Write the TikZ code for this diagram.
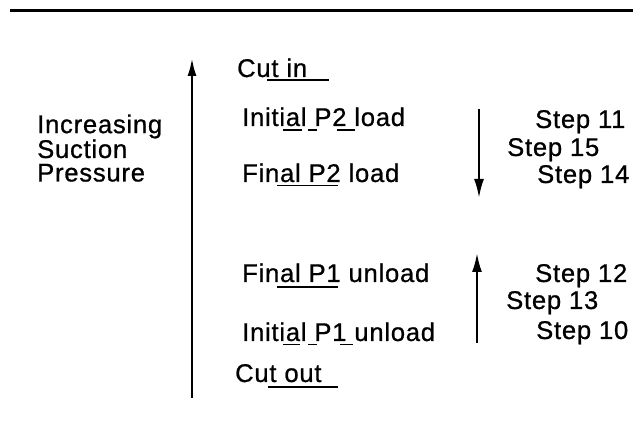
\documentclass[tikz,border=0pt]{standalone}
\usepackage{fontspec}
\setmainfont{Liberation Sans}[LetterSpace=3,FakeBold=0.8]
\usetikzlibrary{arrows.meta}
\tikzset{
  lbl/.style={anchor=base west, inner sep=0pt, font=\fontsize{25.6pt}{30pt}\selectfont},
  uline/.style={line width=1.8pt},
  bigarrow/.style={line width=2.5pt, -{Latex[length=18pt,width=9pt]}},
  smallarrow/.style={line width=2.3pt, -{Latex[length=19pt,width=10pt]}}
}
\begin{document}
\begin{tikzpicture}[x=1pt,y=-1pt]
\useasboundingbox (0,0) rectangle (633,430);
% top rule
\draw[line width=3.5pt] (10,10.5) -- (633,10.5);
% left label
\node[lbl, align=left, font=\fontsize{25.6pt}{23.5pt}\selectfont] (inc) at (37,181.5) {Increasing\\Suction\\Pressure};
% big arrow
\coordinate (bigbot) at (192,398);
\coordinate (bigtop) at (192,58);
\draw[bigarrow] (bigbot) -- (bigtop);
% middle labels
\node[lbl] (cutin) at (237,77) {Cut in};
\node[lbl] (ip2) at (242,126) {Initial P2 load};
\node[lbl] (fp2) at (242,182) {Final P2 load};
\node[lbl] (fp1) at (242,282) {Final P1 unload};
\node[lbl] (ip1) at (242,341) {Initial P1 unload};
\node[lbl] (cutout) at (235,382) {Cut out};
% underlines
\draw[uline] (267,80) -- (329,80);
\draw[uline] (283,130) -- (302,130);
\draw[uline] (308,130) -- (317,130);
\draw[uline] (337,130) -- (355,130);
\draw[uline] (277,185.5) -- (338,185.5);
\draw[uline] (277,287) -- (338,287);
\draw[uline] (283,344.5) -- (300,344.5);
\draw[uline] (308,344.5) -- (317,344.5);
\draw[uline] (340,344.5) -- (353,344.5);
\draw[uline] (268,387) -- (338,387);
% right arrows
\coordinate (dtop) at (479,109);
\coordinate (dbot) at (479,198);
\draw[smallarrow] (dtop) -- (dbot);
\coordinate (ubot) at (477,343);
\coordinate (utop) at (477,253);
\draw[smallarrow] (ubot) -- (utop);
% steps
\node[lbl] (s11) at (535,128) {Step 11};
\node[lbl] (s15) at (507,156) {Step 15};
\node[lbl] (s14) at (537,183) {Step 14};
\node[lbl] (s12) at (535,282) {Step 12};
\node[lbl] (s13) at (506,309) {Step 13};
\node[lbl] (s10) at (536,339) {Step 10};
\end{tikzpicture}
\end{document}
